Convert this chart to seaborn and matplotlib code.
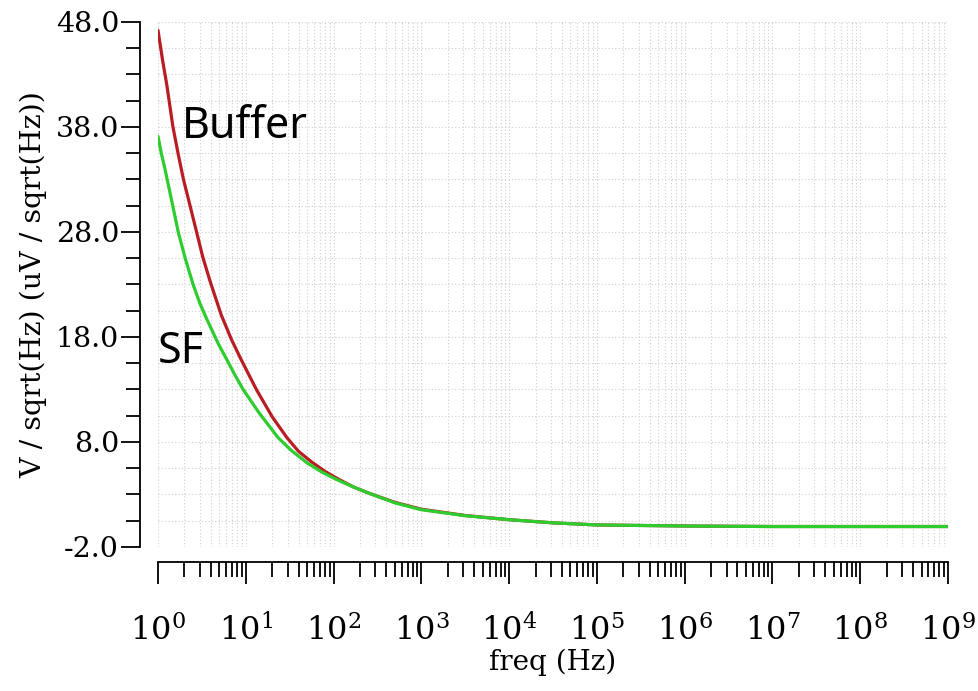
import numpy as np
import pandas as pd
import matplotlib
matplotlib.use("Agg")
import matplotlib.pyplot as plt
import seaborn as sns
from matplotlib.ticker import FixedLocator, FormatStrFormatter, LogLocator

# values (frequency in Hz, noise in uV/sqrt(Hz))
buffer_freq = [1.0, 1.12, 1.26, 1.48, 1.70, 1.95, 2.24, 2.75, 3.24, 3.89,
               5.25, 6.92, 8.91, 13.2, 20.0, 29.5, 40.0, 56.2, 80.0, 117,
               170, 257, 501, 1e3, 3.16e3, 1e4, 3.16e4, 1e5, 1e6, 1e7,
               1e8, 1e9]
buffer_noise = [47.2, 44.5, 42.0, 38.0, 35.4, 33.0, 31.0, 28.0, 25.6, 23.4,
                20.1, 17.7, 15.8, 13.0, 10.4, 8.4, 7.1, 6.1, 5.2, 4.4,
                3.7, 3.1, 2.25, 1.6, 1.0, 0.6, 0.3, 0.1, 0.0, -0.05,
                -0.05, -0.05]

sf_freq = [1.0, 1.09, 1.20, 1.43, 1.70, 2.04, 2.51, 3.00, 3.55, 4.90,
           6.03, 7.50, 9.33, 14.1, 23.4, 33.0, 50.1, 75.0, 110, 170,
           257, 501, 1e3, 3.16e3, 1e4, 3.16e4, 1e5, 1e6, 1e7, 1e8,
           1e9]
sf_noise = [37.1, 35.5, 34.0, 31.0, 28.0, 25.5, 23.0, 21.2, 19.8, 17.3,
            15.9, 14.4, 13.0, 10.8, 8.4, 7.2, 6.0, 5.1, 4.4, 3.7,
            3.1, 2.2, 1.55, 0.98, 0.6, 0.3, 0.1, 0.0, -0.05, -0.05,
            -0.05]

y_ticks = [-2.0, 8.0, 18.0, 28.0, 38.0, 48.0]
x_ticks = [10.0 ** k for k in range(10)]

df = pd.concat([
    pd.DataFrame({"freq": buffer_freq, "noise": buffer_noise, "curve": "Buffer"}),
    pd.DataFrame({"freq": sf_freq, "noise": sf_noise, "curve": "SF"}),
])

sns.set_style("white")
plt.rcParams["font.family"] = ["DejaVu Serif"]
plt.rcParams["mathtext.fontset"] = "dejavuserif"
plt.rcParams["text.color"] = "black"
plt.rcParams["axes.labelcolor"] = "black"
plt.rcParams["xtick.color"] = "black"
plt.rcParams["ytick.color"] = "black"

fig = plt.figure(figsize=(9.79, 6.91), dpi=100)
ax = fig.add_axes([0.1614, 0.2084, 0.8069, 0.7598])

sns.lineplot(data=df, x="freq", y="noise", hue="curve",
             palette={"Buffer": "#b81d24", "SF": "#2ecc2e"},
             linewidth=2.3, legend=False, ax=ax)

ax.set_xscale("log")
ax.set_xlim(1, 1e9)
ax.set_ylim(-2, 48)

ax.xaxis.set_major_locator(FixedLocator(x_ticks))
ax.xaxis.set_minor_locator(LogLocator(base=10, subs=np.arange(2, 10), numticks=100))
ax.yaxis.set_major_locator(FixedLocator(y_ticks))
ax.yaxis.set_minor_locator(FixedLocator(np.arange(-2, 48.1, 2.5)))
ax.yaxis.set_major_formatter(FormatStrFormatter("%.1f"))

ax.grid(True, which="both", color="#cfcfcf", linestyle=(0, (1, 2)), linewidth=0.8)

ax.tick_params(axis="both", which="both", direction="out", color="black",
               width=1.3, bottom=True, left=True)
ax.tick_params(axis="y", which="major", length=14, labelsize=20.5, pad=1)
ax.tick_params(axis="y", which="minor", length=10)
ax.tick_params(axis="x", which="major", length=16, labelsize=23, pad=22)
ax.tick_params(axis="x", which="minor", length=11)

sns.despine(ax=ax, offset={"left": 13, "bottom": 11})
for side in ("left", "bottom"):
    ax.spines[side].set_color("black")
    ax.spines[side].set_linewidth(1.3)

ax.set_xlabel("freq (Hz)", fontsize=20, labelpad=0)
ax.set_ylabel("V / sqrt(Hz) (uV / sqrt(Hz))", fontsize=20.5, labelpad=6)

ax.text(1.85, 38.0, "Buffer", fontsize=31, family=["Noto Sans"], va="center", ha="left")
ax.text(1.0, 16.6, "SF", fontsize=31, family=["Noto Sans"], va="center", ha="left")

fig.savefig("out.png", dpi=100)
